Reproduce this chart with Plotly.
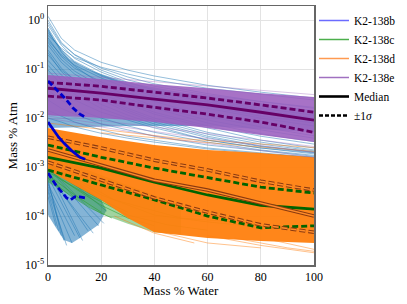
import numpy as np
import plotly.graph_objects as go

# ---------------- data (log10 of "Mass % Atm") -------------
X_STAT = [0, 20, 40, 60, 80, 100]
XS = [0, 5, 10, 20, 30, 40, 60, 80, 100]

# K2-138e (purple) statistics
e_med = [-1.39, -1.49, -1.61, -1.73, -1.88, -2.04]
e_hi = [-1.27, -1.35, -1.47, -1.59, -1.73, -1.88]
e_lo = [-1.55, -1.63, -1.78, -1.92, -2.08, -2.29]
# K2-138d (orange) statistics
d_med = [-2.65, -2.96, -3.27, -3.47, -3.73, -4.00]
d_hi = [-2.39, -2.61, -2.86, -3.06, -3.29, -3.47]
d_lo = [-2.90, -3.27, -3.63, -3.92, -4.18, -4.33]
# K2-138c (green) statistics
c_med = [-2.80, -3.02, -3.31, -3.57, -3.78, -3.86]
c_hi = [-2.55, -2.80, -3.02, -3.22, -3.41, -3.53]
c_lo = [-3.06, -3.37, -3.67, -4.00, -4.24, -4.20]
# K2-138b (blue) statistics
b_med_x = [0, 2, 4, 6, 9, 12, 14]
b_med = [-2.08, -2.24, -2.39, -2.51, -2.67, -2.80, -2.84]
b_hi_x = [0, 2, 4.5, 7, 9.5, 12, 14]
b_hi = [-1.24, -1.35, -1.49, -1.63, -1.80, -1.92, -1.98]
b_lo_x = [0, 3, 7, 8.5, 10, 12, 14]
b_lo = [-3.12, -3.37, -3.63, -3.67, -3.61, -3.61, -3.63]

# dense bands (envelopes)
purple_top = [-1.12, -1.20, -1.31, -1.39, -1.49, -1.57]
purple_bot = [-1.94, -2.00, -2.08, -2.20, -2.35, -2.49]
orange_top = [-2.20, -2.39, -2.55, -2.65, -2.71, -2.80]
orange_bot_x = [100, 80, 60, 40, 30, 20, 10, 0]
orange_bot = [-4.55, -4.51, -4.45, -4.33, -4.04, -3.67, -3.37, -3.06]
green_x = [0, 10, 20, 30, 40, 50]
green_top = [-2.65, -2.96, -3.16, -3.37, -3.57, -3.78]
green_bot = [-3.31, -3.63, -3.96, -4.16, -4.33, -4.37]
blue_top_x = [0, 2, 5, 8, 12, 16, 20, 30, 50, 100]
blue_top = [-0.16, -0.37, -0.61, -0.78, -0.92, -1.02, -1.10, -1.27, -1.47, -1.84]
blue_bot_x = [100, 60, 30, 10, 0]
blue_bot = [-2.29, -2.16, -2.16, -2.18, -2.20]
blue_low_x = [0, 5, 10, 15, 20, 22, 19, 15, 12, 9, 6, 3, 0]
blue_low = [-2.86, -3.06, -3.27, -3.47, -3.67, -3.88, -4.18, -4.33, -4.45, -4.55, -4.49, -4.24, -3.98]

# individual thin lines (K2-138b fan), sampled at XS
blue_lines = [
    [0.08, -0.37, -0.61, -0.86, -1.02, -1.14, -1.33, -1.47, -1.59],
    [-0.31, -0.57, -0.76, -0.96, -1.10, -1.22, -1.39, -1.51, -1.63],
    [-0.10, -0.51, -0.78, -1.06, -1.27, -1.43, -1.63, -1.80, -1.94],
    [-0.41, -0.71, -0.92, -1.18, -1.39, -1.55, -1.80, -2.00, -2.16],
    [-0.20, -0.65, -0.94, -1.31, -1.55, -1.76, -2.04, -2.24, -2.41],
    [-0.51, -0.86, -1.10, -1.43, -1.67, -1.88, -2.16, -2.37, -2.53],
    [-0.61, -0.98, -1.22, -1.55, -1.80, -2.00, -2.29, -2.49, -2.65],
    [-0.82, -1.12, -1.35, -1.63, -1.88, -2.08, -2.37, -2.57, -2.69],
    [-0.16, -0.61, -0.86, -1.14, -1.33, -1.47, -1.67, -1.84, -2.00],
    [-1.02, -1.31, -1.51, -1.80, -2.00, -2.16, -2.45, -2.61, -2.73],
    [0.00, -0.45, -0.71, -1.02, -1.22, -1.35, -1.53, -1.67, -1.80],
    [-0.71, -1.02, -1.22, -1.51, -1.71, -1.92, -2.20, -2.45, -2.61],
    [-1.22, -1.47, -1.63, -1.88, -2.04, -2.20, -2.45, -2.61, -2.71],
    [-1.43, -1.63, -1.80, -2.00, -2.16, -2.29, -2.49, -2.65, -2.76],
    [-1.63, -1.80, -1.92, -2.12, -2.24, -2.37, -2.55, -2.67, -2.78],
    [-1.84, -1.96, -2.08, -2.24, -2.37, -2.45, -2.61, -2.71, -2.80],
    [-2.00, -2.08, -2.18, -2.31, -2.41, -2.49, -2.63, -2.73, -2.80],
    [-0.05, -0.48, -0.70, -0.98, -1.16, -1.30, -1.50, -1.66, -1.78],
    [-0.25, -0.60, -0.84, -1.12, -1.32, -1.50, -1.76, -1.96, -2.10],
    [-0.36, -0.74, -0.98, -1.26, -1.48, -1.66, -1.96, -2.18, -2.36],
    [-0.92, -1.22, -1.44, -1.72, -1.94, -2.12, -2.40, -2.58, -2.70],
    [-0.45, -0.80, -1.04, -1.36, -1.60, -1.80, -2.10, -2.32, -2.48],
    [-0.66, -1.05, -1.28, -1.58, -1.84, -2.04, -2.33, -2.53, -2.67],
]
# short K2-138b runs in the lower left: (end x, start log, end log)
blue_short_end_x = [6, 9, 12, 4, 15, 19, 3, 22, 7, 10, 17, 21, 5, 13]
blue_short_start = [-3.30, -3.40, -3.20, -3.50, -3.10, -3.00, -3.60, -2.90, -3.45, -3.35, -3.15, -3.00, -3.25, -3.05]
blue_short_end = [-4.50, -4.55, -4.45, -4.30, -4.30, -4.20, -4.20, -3.90, -4.60, -4.40, -4.35, -4.15, -4.40, -4.50]

green_lines = [
    ([0, 10, 20, 30], [-3.02, -3.37, -3.67, -3.92]),
    ([0, 10, 20, 30, 40], [-3.06, -3.43, -3.78, -4.04, -4.20]),
    ([0, 15, 30, 45, 60], [-3.10, -3.57, -3.98, -4.18, -4.29]),
    ([0, 10, 20], [-3.16, -3.57, -3.92]),
    ([0, 20, 40, 60, 75], [-2.96, -3.57, -3.98, -4.12, -4.20]),
    ([0, 8, 16, 24], [-3.22, -3.57, -3.84, -4.04]),
    ([0, 25, 50, 70], [-2.92, -3.67, -4.04, -4.12]),
]
orange_lines = [
    ([40, 60, 80], [-4.30, -4.55, -4.65]),
    ([60, 80, 100], [-4.40, -4.60, -4.75]),
    ([70, 90, 100], [-4.45, -4.65, -4.72]),
    ([25, 40, 55], [-4.00, -4.35, -4.55]),
    ([85, 100], [-4.50, -4.68]),
    ([0, 50, 100], [-2.10, -2.42, -2.60]),
    ([20, 60, 100], [-2.30, -2.50, -2.68]),
]
purple_lines = [
    ([0, 50, 100], [-1.96, -2.35, -2.70]),
    ([0, 50, 100], [-2.00, -2.45, -2.80]),
    ([0, 50, 100], [-1.92, -2.25, -2.58]),
    ([0, 50, 100], [-1.08, -1.30, -1.52]),
]

TICK_EXP = [-5, -4, -3, -2, -1, 0]
TICK_TEXT = ["10<sup>-5</sup>", "10<sup>-4</sup>", "10<sup>-3</sup>",
             "10<sup>-2</sup>", "10<sup>-1</sup>", "10<sup>0</sup>"]
X_TICKS = [0, 20, 40, 60, 80, 100]

# ---------------- styling ----------------
BLUE = "rgba(31,119,180,0.55)"
GREEN = "rgba(44,160,44,0.45)"
ORANGE = "rgba(255,127,14,0.95)"
PURPLE = "rgba(155,95,190,0.88)"
FONT = "'Liberation Serif', 'DejaVu Serif', serif"


def p(v):
    return 10 ** np.asarray(v, dtype=float)


fig = go.Figure()


def poly(x, y, color):
    fig.add_trace(go.Scatter(x=x, y=p(y), mode="lines", fill="toself", fillcolor=color,
                             line=dict(width=0), hoverinfo="skip", showlegend=False))


def thin(x, y, color, w=0.8, dash=None):
    fig.add_trace(go.Scatter(x=x, y=p(y), mode="lines",
                             line=dict(color=color, width=w, dash=dash),
                             hoverinfo="skip", showlegend=False))


# K2-138b spaghetti
poly(blue_top_x + blue_bot_x, blue_top + blue_bot, BLUE)
poly(blue_low_x, blue_low, BLUE)
for ln in blue_lines:
    thin(XS, ln, "rgba(31,119,180,0.6)")
for ex, s, e in zip(blue_short_end_x, blue_short_start, blue_short_end):
    thin([0, ex], [s, e], "rgba(31,119,180,0.6)")

# K2-138c spaghetti
poly(green_x + green_x[::-1], green_top + green_bot[::-1], GREEN)
for gx, gy in green_lines:
    thin(gx, gy, "rgba(44,160,44,0.7)")

# K2-138d spaghetti
poly(X_STAT + orange_bot_x, orange_top + orange_bot, ORANGE)
for ox, oy in orange_lines:
    thin(ox, oy, "rgba(255,127,14,0.6)")

# K2-138e spaghetti
poly(X_STAT + X_STAT[::-1], purple_top + purple_bot[::-1], PURPLE)
for px_, py_ in purple_lines:
    thin(px_, py_, "rgba(150,95,185,0.45)")

DASH = "6px,3px"
# statistics lines
thin(X_STAT, c_hi, "#006400", 2.8, DASH)
thin(X_STAT, c_lo, "#006400", 2.8, DASH)
thin(X_STAT, c_med, "#006400", 2.8)
for arr, dash in [(d_hi, DASH), (d_lo, DASH), (d_med, None)]:
    thin(X_STAT, arr, "#8b3a0f", 3.6, dash)
    thin(X_STAT, arr, "#ff8c2a", 1.4, dash)
thin(X_STAT, e_hi, "#660066", 2.8, DASH)
thin(X_STAT, e_lo, "#660066", 2.8, DASH)
thin(X_STAT, e_med, "#660066", 2.8)
thin(b_hi_x, b_hi, "#0000cd", 2.8, DASH)
thin(b_lo_x, b_lo, "#0000cd", 2.8, DASH)
thin(b_med_x, b_med, "#0000cd", 2.8)

# legend entries
for name, col, w, dash in [("K2-138b", "#6b6bff", 1.5, None),
                           ("K2-138c", "#4caf4c", 1.5, None),
                           ("K2-138d", "#ff9a50", 1.5, None),
                           ("K2-138e", "#a070c0", 1.5, None),
                           ("Median", "black", 2.6, None),
                           ("±1<i>σ</i>", "black", 2.6, "4px,2px")]:
    fig.add_trace(go.Scatter(x=[None], y=[None], mode="lines", name=name,
                             line=dict(color=col, width=w, dash=dash)))

axis_common = dict(showline=True, linecolor="#666666", linewidth=1.5, mirror=True,
                   showgrid=True, gridcolor="#e3e3e3", gridwidth=1, zeroline=False,
                   ticks="", automargin=False,
                   tickfont=dict(family=FONT, size=12, color="black"))

fig.update_layout(
    width=407, height=304,
    margin=dict(l=48, r=93, t=6, b=39),
    paper_bgcolor="white", plot_bgcolor="white",
    font=dict(family=FONT, size=12, color="black"),
    legend=dict(x=1.0, y=1.0, xanchor="left", yanchor="top",
                font=dict(family=FONT, size=11.5, color="black"),
                bgcolor="rgba(0,0,0,0)", itemwidth=30, tracegroupgap=0),
    xaxis=dict(range=[0, 100], tickvals=X_TICKS, **axis_common),
    yaxis=dict(type="log", range=[-5, 0.29], tickvals=[10.0 ** k for k in TICK_EXP],
               ticktext=TICK_TEXT, **axis_common),
    annotations=[
        dict(text="Mass % Water", x=0.5, y=-0.10, xref="paper", yref="paper",
             xanchor="center", yanchor="middle", showarrow=False,
             font=dict(family=FONT, size=13, color="black")),
        dict(text="Mass % Atm", x=-0.132, y=0.5, xref="paper", yref="paper",
             xanchor="center", yanchor="middle", showarrow=False, textangle=-90,
             font=dict(family=FONT, size=13, color="black")),
    ],
)

fig.write_html("out.html",
               config={"displayModeBar": False, "staticPlot": True},
               post_script="document.body.style.margin='0';document.body.style.overflow='hidden';")
